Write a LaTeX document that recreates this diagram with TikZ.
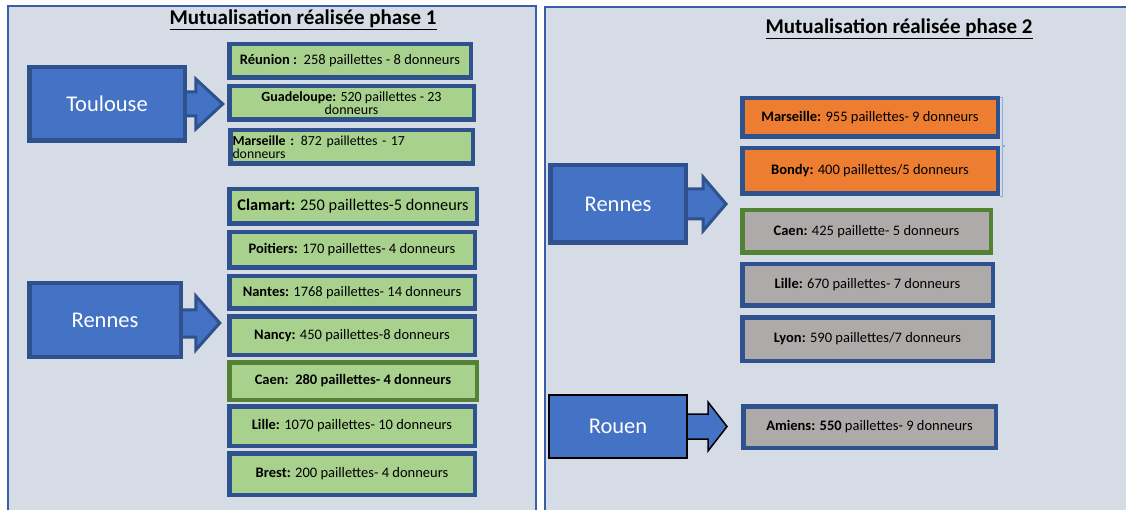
\documentclass[tikz,border=0pt]{standalone}
\usepackage{fontspec}
\setmainfont{Carlito}
\usetikzlibrary{calc}
\definecolor{panelfill}{HTML}{D6DCE5}
\definecolor{panelline}{HTML}{3A5FA8}
\definecolor{boxline}{HTML}{2F528F}
\definecolor{cityfill}{HTML}{4472C4}
\definecolor{greenfill}{HTML}{A9D18E}
\definecolor{greenline}{HTML}{548235}
\definecolor{orangefill}{HTML}{ED7D31}
\definecolor{greyfill}{HTML}{AEAAAA}
\definecolor{bracketline}{HTML}{8FAADC}
\tikzset{
  panel/.style={fill=panelfill,draw=panelline,line width=1.5pt},
  box/.style={draw=boxline,line width=4.5pt,inner sep=0pt,outer sep=0pt,align=center,
    font=\fontsize{14.5}{12}\selectfont,text=black},
  bw/.style={minimum width=#1pt-4.5pt},
  bh/.style={minimum height=#1pt-4.5pt},
  gbox/.style={box,fill=greenfill},
  obox/.style={box,fill=orangefill},
  ybox/.style={box,fill=greyfill},
  city/.style={box,fill=cityfill,text=white,font=\fontsize{22.5}{24}\selectfont},
  barrow/.style={fill=cityfill,draw=boxline,line width=3pt,line join=miter},
  karrow/.style={fill=cityfill,draw=black,line width=1.5pt,line join=miter},
  title/.style={font=\fontsize{21}{23}\selectfont\bfseries,text=black,inner sep=0pt},
}
\begin{document}
\begin{tikzpicture}[x=1pt,y=-1pt]
\useasboundingbox (0,0) rectangle (1126,510);
\fill[white] (0,0) rectangle (1126,510);

% panels
\draw[panel] (8,6) rectangle (536,516);
\draw[panel] (545,7) rectangle (1140,516);

\node[title] (t1) at (303,20) {\underline{Mutualisation réalisée phase 1}};
\node[title] (t2) at (899,29) {\underline{Mutualisation réalisée phase 2}};

% ---------- phase 1 ----------
\node[city,bw=160,bh=78] (tou) at (107,104) {Toulouse};
\node[city,bw=156,bh=78] (ren1) at (105,320) {Rennes};

\node[gbox,bw=246,bh=38] (reu) at (350,61) {\textbf{Réunion :}\ \ 258 paillettes - 8 donneurs};
\node[gbox,bw=249,bh=38,font=\fontsize{14}{11.5}\selectfont] (gua) at (351.5,103) {\textbf{Guadeloupe:} 520 paillettes - 23\\donneurs};
\node[gbox,bw=247,bh=38,align=left,text width=238pt,font=\fontsize{13.8}{11.5}\selectfont] (mar1) at (351.5,147) {\textbf{Marseille :} 872 paillettes - 17\\donneurs};
\node[gbox,bw=252,bh=39,font=\fontsize{16.3}{17}\selectfont] (cla) at (353,206.5) {\textbf{Clamart:} 250 paillettes-5 donneurs};
\node[gbox,bw=250,bh=40] (poi) at (352,250) {\textbf{Poitiers:} 170 paillettes- 4 donneurs};
\node[gbox,bw=250,bh=37] (nan) at (352,292.5) {\textbf{Nantes:} 1768 paillettes- 14 donneurs};
\node[gbox,bw=250,bh=43] (ncy) at (352,335.5) {\textbf{Nancy:} 450 paillettes-8 donneurs};
\node[gbox,draw=greenline,bw=252,bh=42] (cae1) at (353,381) {\textbf{Caen:\ \ 280 paillettes- 4 donneurs}};
\node[gbox,bw=250,bh=44] (lil1) at (352,426) {\textbf{Lille:} 1070 paillettes- 10 donneurs};
\node[gbox,bw=250,bh=46] (bre) at (352,474) {\textbf{Brest:} 200 paillettes- 4 donneurs};

% ---------- phase 2 ----------
\node[obox,bw=260,bh=43] (mar2) at (870,117.5) {\textbf{Marseille:} 955 paillettes- 9 donneurs};
\node[obox,bw=260,bh=50] (bon) at (870,171) {\textbf{Bondy:} 400 paillettes/5 donneurs};
\node[ybox,draw=greenline,bw=253,bh=47] (cae2) at (866.5,231.5) {\textbf{Caen:} 425 paillette- 5 donneurs};
\node[ybox,bw=255,bh=46] (lil2) at (867.5,285) {\textbf{Lille:} 670 paillettes- 7 donneurs};
\node[ybox,bw=255,bh=48] (lyo) at (867.5,339) {\textbf{Lyon:} 590 paillettes/7 donneurs};
\node[ybox,bw=257,bh=46] (ami) at (869.5,427) {\textbf{Amiens: 550} paillettes- 9 donneurs};

% source boxes of phase 2 (named so the arrows can start from them)
\coordinate (ren2) at (618,204);
\coordinate (rou) at (618,426.5);
\path (ren2) ++(70,0) coordinate (ren2e);
\path (rou) ++(70,0) coordinate (roue);

% block arrows, drawn first; the source boxes are laid over their bases
\draw[barrow] (tou.east) ++(-4,-12) -- ++(15,0) -- ++(0,-13) -- ++(27,25) -- ++(-27,25) -- ++(0,-13) -- ++(-15,0) -- cycle;
\draw[barrow] (ren1.east) ++(-4,-10) -- ++(19,0) -- ++(0,-14) -- ++(24,27) -- ++(-24,27) -- ++(0,-13) -- ++(-19,0) -- cycle;
\draw[barrow] (ren2e) ++(-4,-15) -- ++(19,0) -- ++(0,-12) -- ++(23,27) -- ++(-23,27) -- ++(0,-12) -- ++(-19,0) -- cycle;
\draw[karrow] (roue) ++(-2,-12.5) -- ++(22,0) -- ++(0,-12) -- ++(19,24.5) -- ++(-19,24.5) -- ++(0,-12) -- ++(-22,0) -- cycle;

\node[city,bw=160,bh=78] at (tou) {Toulouse};
\node[city,bw=156,bh=78] at (ren1) {Rennes};
\node[city,bw=140,bh=82] (rennes2) at (ren2) {Rennes};
\node[city,draw=black,line width=2pt,minimum width=138pt,minimum height=63pt] (rouen) at (rou) {Rouen};

% bracket grouping the two orange boxes
\draw[bracketline,line width=1.3pt]
  ($(mar2.north east)+(2,-1)$) -- ($(mar2.north east)+(4.5,-1)$)
  -- ($(bon.south east)+(4.5,3)$) -- ($(bon.south east)+(2,3)$);
\draw[bracketline,line width=1.3pt] ($(mar2.north east)!0.5!(bon.south east)+(4.5,0)$) -- ++(2.5,0);
\end{tikzpicture}
\end{document}
